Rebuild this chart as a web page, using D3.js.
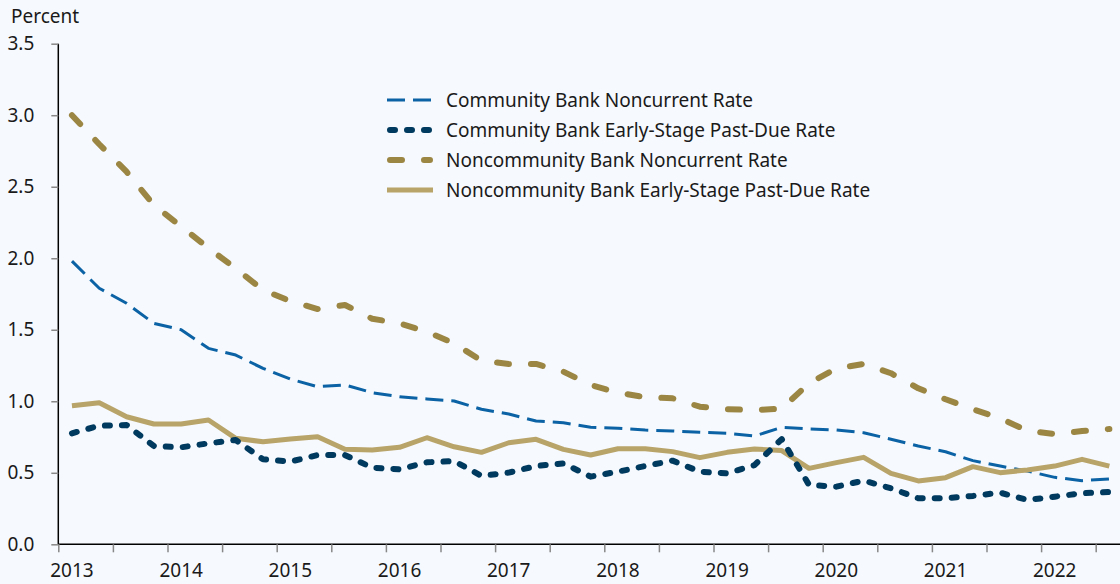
<!DOCTYPE html>
<html><head><meta charset="utf-8">
<script src="https://cdn.jsdelivr.net/npm/d3@7"></script>
<style>
body{margin:0;background:#f6f9fd;}
svg{display:block;font-family:"Noto Sans",sans-serif;}
</style></head>
<body><svg id="c" width="1120" height="584"></svg>
<script>
const startYear = 2013;
const quarters = d3.range(39).map(i => startYear + (i + 0.5) / 4);
const yearLabels = ["2013","2014","2015","2016","2017","2018","2019","2020","2021","2022"];
const yTicks = [0, 0.5, 1.0, 1.5, 2.0, 2.5, 3.0, 3.5];

const communityNoncurrent = [1.98,1.79,1.685,1.545,1.50,1.37,1.323,1.23,1.155,1.102,1.114,1.06,1.032,1.016,1.002,0.944,0.911,0.862,0.85,0.818,0.811,0.799,0.792,0.783,0.776,0.757,0.818,0.806,0.799,0.78,0.735,0.687,0.647,0.585,0.547,0.512,0.468,0.445,0.457];
const communityEarly = [0.776,0.829,0.834,0.687,0.678,0.706,0.729,0.594,0.578,0.624,0.624,0.536,0.524,0.573,0.582,0.478,0.501,0.547,0.566,0.473,0.508,0.547,0.585,0.508,0.496,0.554,0.735,0.415,0.403,0.445,0.392,0.322,0.322,0.338,0.361,0.31,0.333,0.357,0.366];
const noncommunityNoncurrent = [3.0,2.797,2.605,2.372,2.222,2.071,1.928,1.778,1.70,1.645,1.673,1.577,1.545,1.486,1.405,1.284,1.261,1.261,1.207,1.114,1.06,1.028,1.021,0.962,0.944,0.939,0.948,1.126,1.23,1.261,1.196,1.091,1.014,0.944,0.881,0.794,0.771,0.792,0.806];
const noncommunityEarly = [0.969,0.99,0.892,0.841,0.841,0.869,0.741,0.717,0.736,0.752,0.664,0.659,0.678,0.745,0.682,0.643,0.71,0.734,0.664,0.624,0.668,0.668,0.648,0.606,0.643,0.666,0.655,0.531,0.571,0.608,0.496,0.443,0.466,0.543,0.501,0.52,0.547,0.594,0.547];

const seriesNames = ["Community Bank Noncurrent Rate","Community Bank Early-Stage Past-Due Rate","Noncommunity Bank Noncurrent Rate","Noncommunity Bank Early-Stage Past-Due Rate"];

const svg = d3.select("#c");
const x = d3.scaleLinear().domain([2013, 2022.75]).range([58.3, 1123]);
const y = d3.scaleLinear().domain([0, 3.5]).range([544.3, 43.7]);
const FS = 19;

const styles = [
  {data: communityNoncurrent, color:"#0b62a4", width:3, dash:"18,8", cap:"butt"},
  {data: communityEarly, color:"#003a5f", width:6, dash:"5,12", cap:"round"},
  {data: noncommunityNoncurrent, color:"#9c8644", width:6, dash:"12,22", cap:"round"},
  {data: noncommunityEarly, color:"#b8a369", width:5, dash:null, cap:"butt"}
];

// axes
const yAxis = d3.axisLeft(y).tickValues(yTicks).tickFormat(d3.format(".1f")).tickSize(7).tickPadding(17);
const gy = svg.append("g").attr("transform","translate(58.3,0)").call(yAxis);
gy.select(".domain").attr("stroke","#000").attr("stroke-width",1.5).attr("d","M0,43.7V544.3");
gy.selectAll(".tick line").attr("stroke","#888").attr("stroke-width",1.5);
gy.selectAll(".tick text").attr("font-size",FS).attr("fill","#1a1a1a").attr("font-family","Noto Sans");

const halfYears = d3.range(2013, 2022.6, 0.5);
const xAxis = d3.axisBottom(x).tickValues(halfYears).tickFormat("").tickSize(8);
const gx = svg.append("g").attr("transform","translate(0,544.3)").call(xAxis);
gx.select(".domain").attr("stroke","#000").attr("stroke-width",1.5).attr("d","M58.3,0H1120");
gx.selectAll(".tick line").attr("stroke","#888").attr("stroke-width",1.5);

svg.append("g").selectAll("text").data(yearLabels).join("text")
  .attr("x", d => x(+d + 0.125)).attr("y", 577)
  .attr("text-anchor","middle").attr("font-size",FS).attr("fill","#1a1a1a")
  .text(d => d);

svg.append("text").attr("x",11).attr("y",23).attr("font-size",FS).attr("fill","#1a1a1a").text("Percent");

// lines
const line = d3.line().x((d,i) => x(quarters[i])).y(d => y(d));
const order = [0,3,1,2];
order.forEach(k => {
  const s = styles[k];
  svg.append("path").datum(s.data).attr("d", line)
    .attr("fill","none").attr("stroke", s.color).attr("stroke-width", s.width)
    .attr("stroke-dasharray", s.dash).attr("stroke-linecap", s.cap).attr("stroke-linejoin","round");
});

// legend
const lg = svg.append("g");
seriesNames.forEach((name,i) => {
  const s = styles[i];
  const yy = 100 + i*30;
  lg.append("line").attr("x1", s.cap==="round"?390:387).attr("x2", s.cap==="round"?430:433).attr("y1",yy).attr("y2",yy)
    .attr("stroke", s.color).attr("stroke-width", s.width)
    .attr("stroke-dasharray", s.dash).attr("stroke-linecap", s.cap);
  lg.append("text").attr("x",446).attr("y",yy).attr("dy","0.35em")
    .attr("font-size",FS).attr("fill","#1a1a1a").text(name);
});
</script></body></html>
